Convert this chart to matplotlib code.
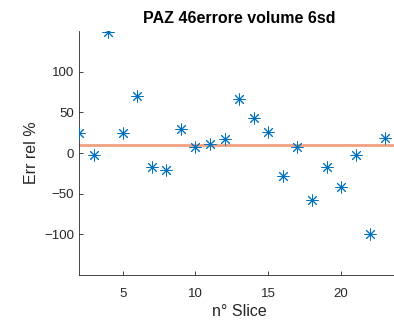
import numpy as np
import matplotlib
matplotlib.use('Agg')
import matplotlib.pyplot as plt

plt.rcParams['font.family'] = ['Liberation Sans', 'DejaVu Sans']

slices = [2, 3, 4, 5, 6, 7, 8, 9, 10, 11, 12, 13, 14, 15, 16, 17, 18, 19, 20, 21, 22, 23]
err_rel = [24, -2.5, 149, 24, 70, -17, -21.5, 29.5, 7, 11, 17, 66, 43.5, 25.5,
           -28.5, 7, -58, -17, -42, -2, -99.5, 18]
mean_err = 10

blue = '#0072BD'
grey = '#262626'

fig = plt.figure(figsize=(3.94, 3.23), dpi=100)
ax = fig.add_axes([0.2005, 0.1486, 0.813, 0.7554])

ax.plot(slices, err_rel, linestyle='none', marker=(8, 2, 0), markersize=8.5,
        markeredgewidth=0.7, color=blue, zorder=3)
ax.axhline(mean_err, color='#F0A080', linewidth=2, zorder=2)

ax.set_xlim(2, 24)
ax.set_ylim(-150, 150)
ax.set_xticks([5, 10, 15, 20])
ax.set_yticks([-100, -50, 0, 50, 100])

for s in ['top', 'right']:
    ax.spines[s].set_visible(False)
for s in ['left', 'bottom']:
    ax.spines[s].set_color(grey)
    ax.spines[s].set_linewidth(0.6)
ax.tick_params(direction='in', length=3, width=0.6, colors=grey, labelsize=9.5)
ax.tick_params(axis='x', pad=9)

ax.set_xlabel('n° Slice', fontsize=11.5, color=grey, labelpad=3)
ax.set_ylabel('Err rel %', fontsize=11.5, color=grey)
ax.set_title('PAZ 46errore volume 6sd', fontsize=11.5, fontweight='bold', color='black', pad=6)

fig.savefig('out.png', dpi=100)
